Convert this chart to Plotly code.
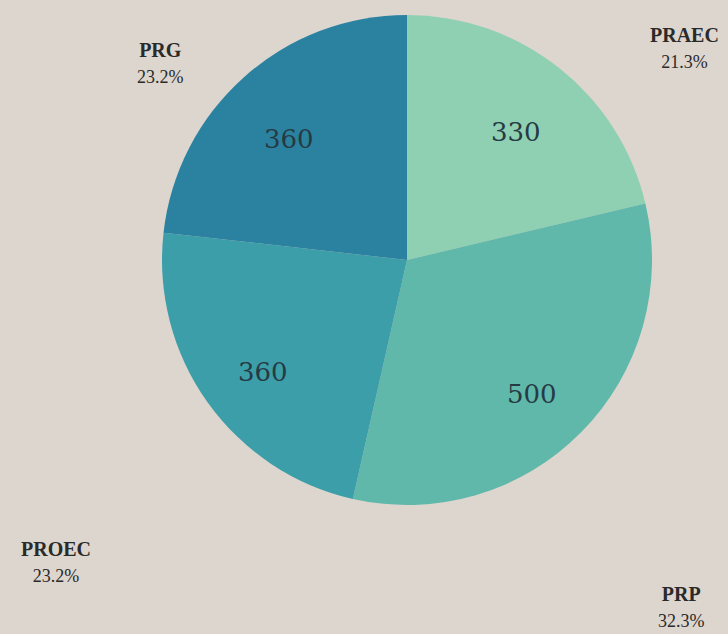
import math
import plotly.graph_objects as go

labels = ["PRAEC", "PRP", "PROEC", "PRG"]
values = [330, 500, 360, 360]
colors = ["#8fd0b2", "#60b8aa", "#3c9ea9", "#2b82a0"]

total = sum(values)
pcts = [f"{v / total * 100:.1f}%" for v in values]

W, H = 728, 634
cx, cy, r = 407, 260, 245

fig = go.Figure(go.Pie(
    labels=labels,
    values=values,
    sort=False,
    direction="clockwise",
    rotation=0,
    marker=dict(colors=colors, line=dict(width=0)),
    textinfo="none",
    showlegend=False,
    hoverinfo="label+value+percent",
    domain=dict(x=[(cx - r) / W, (cx + r) / W], y=[1 - (cy + r) / H, 1 - (cy - r) / H]),
))

annotations = []
# value labels inside slices, placed at each slice's mid-angle
start = 0.0
for v in values:
    sweep = v / total * 360
    mid = math.radians(start + sweep / 2)
    start += sweep
    rr = 0.72 * r
    x = cx + rr * math.sin(mid)
    y = cy - rr * math.cos(mid) + 10
    annotations.append(dict(
        x=x / W, y=1 - y / H, xref="paper", yref="paper",
        text=str(v), showarrow=False,
        font=dict(family="DejaVu Serif", size=26, color="#263a44"),
        xanchor="center", yanchor="middle",
    ))

label_pos = {"PRAEC": (684, 48), "PRP": (681, 607), "PROEC": (56, 562), "PRG": (160, 63)}
for lab, pct in zip(labels, pcts):
    x, y = label_pos[lab]
    annotations.append(dict(
        x=x / W, y=1 - y / H, xref="paper", yref="paper",
        text=f"<b>{lab}</b><br><span style='font-size:18px'>{pct}</span>",
        showarrow=False, align="center",
        font=dict(family="Liberation Serif", size=20, color="#2a2a2a"),
        xanchor="center", yanchor="middle",
    ))

fig.update_layout(
    width=W, height=H,
    margin=dict(l=0, r=0, t=0, b=0),
    paper_bgcolor="#ddd6ce",
    plot_bgcolor="#ddd6ce",
    annotations=annotations,
)

fig.write_html("out.html", config={"displayModeBar": False},
               post_script="document.body.style.margin='0';")
